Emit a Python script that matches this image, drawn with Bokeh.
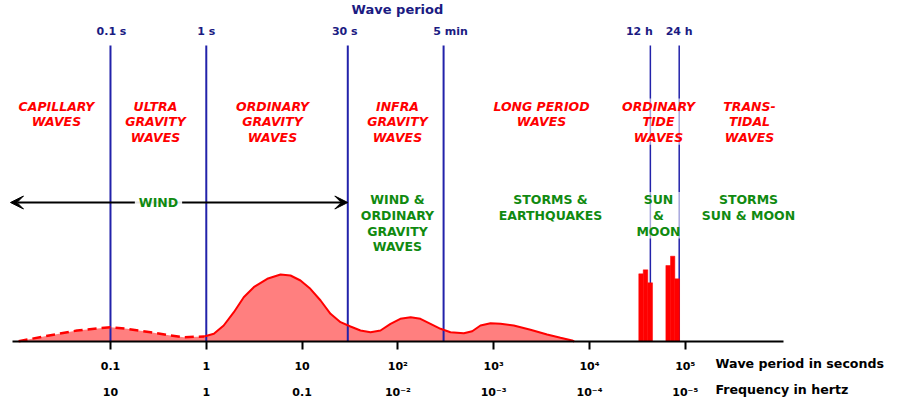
from bokeh.plotting import figure
from bokeh.models import Range1d, FixedTicker, LogAxis, Label, Arrow, VeeHead, ColumnDataSource
from bokeh.core.properties import value
from bokeh.embed import file_html
from bokeh.resources import INLINE

# ---------------- data (periods in seconds, energy in relative units) ----------------
dashed_period = [0.0110, 0.0201, 0.0449, 0.100, 0.149, 0.262, 0.423, 0.582, 0.95]
dashed_energy = [0.03, 0.50, 1.10, 1.43, 1.27, 0.93, 0.60, 0.43, 0.50]

solid_period = [0.95, 1.20, 1.52, 1.94, 2.46, 3.13, 4.33, 5.96, 7.57, 9.62, 12.2, 15.6,
                19.8, 25.2, 32.0, 40.7, 51.8, 65.8, 83.8, 106, 136, 172, 219, 279, 354,
                488, 597, 728, 927, 1180, 1620, 2420, 3610, 4980, 6590, 6920]
solid_energy = [0.50, 0.77, 1.60, 2.93, 4.43, 5.43, 6.27, 6.70, 6.60, 6.10, 5.27, 4.10,
                2.77, 1.93, 1.50, 1.10, 0.93, 1.10, 1.77, 2.27, 2.43, 2.27, 1.77, 1.27, 0.93,
                0.83, 1.03, 1.60, 1.83, 1.77, 1.60, 1.17, 0.70, 0.37, 0.10, 0.0]

tide_left = [32700, 36400, 40600, 62700, 70100, 77800]
tide_right = [36400, 40600, 45500, 70100, 77800, 87100]
tide_energy = [6.77, 7.17, 5.87, 7.60, 8.53, 6.27]

marker_period = [0.1, 1, 30, 300, 43200, 86400]
marker_label = ["0.1 s", "1 s", "30 s", "5 min", "12 h", "24 h"]

tick_period = [0.1, 1, 10, 100, 1000, 10000, 100000]
period_labels = ["0.1", "1", "10", "10\u00b2", "10\u00b3", "10\u2074", "10\u2075"]
freq_labels = ["10", "1", "0.1", "10\u207b\u00b2", "10\u207b\u00b3", "10\u207b\u2074", "10\u207b\u2075"]

wave_types = ["CAPILLARY\nWAVES", "ULTRA\nGRAVITY\nWAVES", "ORDINARY\nGRAVITY\nWAVES",
              "INFRA\nGRAVITY\nWAVES", "LONG PERIOD\nWAVES", "ORDINARY\nTIDE\nWAVES",
              "TRANS-\nTIDAL\nWAVES"]
forces = ["WIND &\nORDINARY\nGRAVITY\nWAVES", "STORMS &\nEARTHQUAKES", "SUN\n&\nMOON",
          "STORMS\nSUN & MOON"]
axis_titles = ["Wave period in seconds", "Frequency in hertz"]

# ---------------- layout (label anchor positions) ----------------
wave_type_x = [0.0273, 0.295, 4.91, 99, 3155, 52500, 468000]
force_x = [99, 3920, 52500, 457000]
marker_label_offset = [1, 0, -3, 7, -11, 0]

NAVY = "#1b1b82"
BLUE = "#2222aa"
GREEN = "#108a10"
RED = "#ff0000"
FONT = value("DejaVu Sans")

p = figure(width=892, height=412, x_axis_type="log", x_axis_location=None,
           x_range=Range1d(10 ** -2.148, 10 ** 7.163), y_range=Range1d(-7.1, 34.1),
           output_backend="svg", toolbar_location=None, y_axis_location=None,
           min_border_left=0, min_border_right=0, min_border_top=0, min_border_bottom=0,
           outline_line_color=None, background_fill_color="white", border_fill_color="white")
p.grid.visible = False

# spectrum fill
all_period = dashed_period + solid_period[1:]
all_energy = dashed_energy + solid_energy[1:]
p.varea(x=all_period, y1=[0] * len(all_period), y2=all_energy, fill_color=RED, fill_alpha=0.5)

# vertical period markers
line_top = [29.6] * len(marker_period)
line_w = [2, 2, 2, 2, 1.5, 1.5]
msrc = ColumnDataSource(dict(x=marker_period, y0=[0] * len(marker_period), y1=line_top,
                             lw=line_w, txt=marker_label, off=marker_label_offset,
                             ty=[31.0] * len(marker_period)))
p.segment(x0="x", y0="y0", x1="x", y1="y1", source=msrc, line_color=BLUE, line_width="lw")
p.text(x="x", y="ty", text="txt", x_offset="off", source=msrc, text_align="center",
       text_baseline="middle", text_color=NAVY, text_font=FONT, text_font_style="bold",
       text_font_size="11px")

p.line(dashed_period, dashed_energy, line_color=RED, line_width=2.5, line_dash="9 5")
p.line(solid_period, solid_energy, line_color=RED, line_width=2)

p.quad(left=tide_left, right=tide_right, bottom=[0] * len(tide_left), top=tide_energy,
       fill_color=RED, line_color=RED, line_width=0.5)

# title
p.text(x=[99], y=[33.2], text=["Wave period"], text_align="center", text_baseline="middle",
       text_color=NAVY, text_font=FONT, text_font_style="bold", text_font_size="13px")

# wave type labels
p.text(x=wave_type_x, y=[24.3] * len(wave_type_x), text=wave_types, text_align="center",
       text_baseline="top", text_color=RED, text_font=FONT, text_font_style="bold italic",
       text_font_size="12.5px", text_line_height=1.04,
       background_fill_color="white", background_fill_alpha=0.6)

# forcing labels
p.text(x=force_x, y=[14.95] * len(force_x), text=forces, text_align="center",
       text_baseline="top", text_color=GREEN, text_font=FONT, text_font_style="bold",
       text_font_size="12.5px", text_line_height=1.05,
       background_fill_color="white", background_fill_alpha=0.6)

# axis row titles
p.text(x=[10 ** 5.315] * 2, y=[-2.2, -4.8], text=axis_titles, text_align="left",
       text_baseline="middle", text_color="black", text_font=FONT, text_font_style="bold",
       text_font_size="12.6px")

# wind arrow
arrow = Arrow(start=VeeHead(size=13, fill_color="black", line_color="black"),
              end=VeeHead(size=13, fill_color="black", line_color="black"),
              x_start=0.00904, y_start=13.9, x_end=30, y_end=13.9,
              line_color="black", line_width=2)
p.add_layout(arrow)
p.add_layout(Label(x=0.317, y=13.9, text="WIND", text_align="center", text_baseline="middle",
                   text_color=GREEN, text_font="DejaVu Sans", text_font_style="bold",
                   text_font_size="12.5px", background_fill_color="white",
                   background_fill_alpha=0.9, padding=4))

# axes (drawn at fixed locations inside the frame)
ax = LogAxis(ticker=FixedTicker(ticks=tick_period),
             major_label_overrides=dict(zip(tick_period, period_labels)),
             fixed_location=0, bounds=(10 ** -2.023, 10 ** 6.025),
             axis_line_color="black", axis_line_width=2,
             major_tick_line_color="black", major_tick_line_width=2,
             major_tick_out=8, major_tick_in=0, minor_tick_line_color=None,
             major_label_standoff=10, major_label_text_font="DejaVu Sans",
             major_label_text_font_style="bold", major_label_text_font_size="11px",
             major_label_text_color="black")
p.add_layout(ax, "below")

ax2 = LogAxis(ticker=FixedTicker(ticks=tick_period),
              major_label_overrides=dict(zip(tick_period, freq_labels)),
              fixed_location=-3.4, bounds=(10 ** -2.023, 10 ** 6.025),
              axis_line_color=None, major_tick_line_color=None, minor_tick_line_color=None,
              major_tick_out=0, major_tick_in=0, major_label_standoff=10,
              major_label_text_font="DejaVu Sans", major_label_text_font_style="bold",
              major_label_text_font_size="11px", major_label_text_color="black")
p.add_layout(ax2, "below")

open("out.html", "w").write(file_html(p, INLINE))
